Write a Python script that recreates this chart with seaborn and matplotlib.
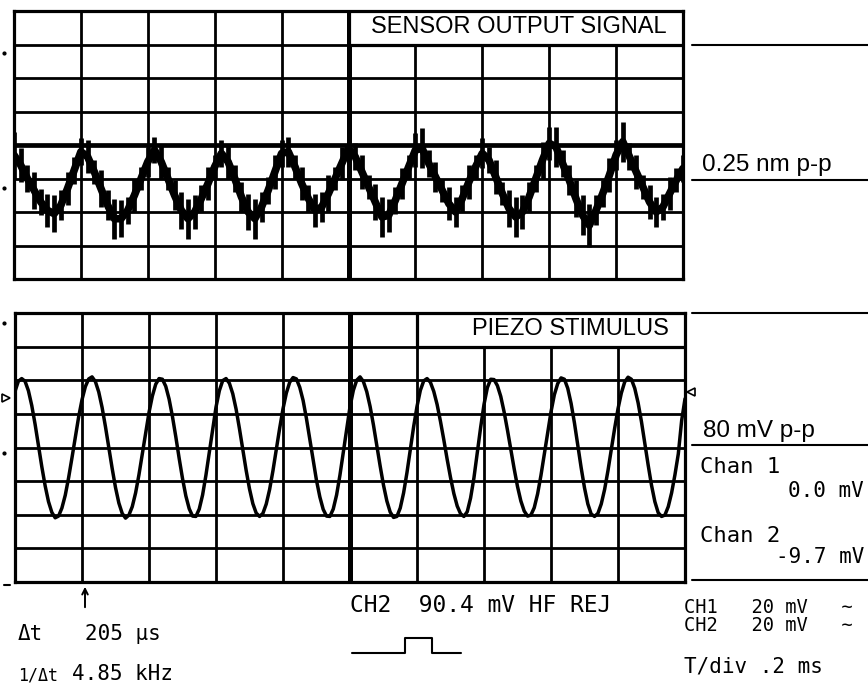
import numpy as np
import pandas as pd
import matplotlib
matplotlib.use("Agg")
import matplotlib.pyplot as plt
import seaborn as sns
from matplotlib.patches import Rectangle
from matplotlib.lines import Line2D

# ---------------- data (read from the scope print, units = divisions) ----------------
# time base: 10 divisions, T/div = 0.2 ms
SENSOR_STEP = 0.1   # div between samples of the sensor trace
PIEZO_STEP = 0.05   # div between samples of the piezo trace

sensor_mid = [
    -0.3, -0.6, -1.0, -1.35, -1.7, -1.95, -2.05, -1.8, -1.3, -0.75,
    -0.2, -0.35, -0.8, -1.3, -1.8, -2.2, -2.2, -1.95, -1.5, -1.0,
    -0.5, -0.15, -0.5, -1.0, -1.5, -1.95, -2.2, -2.0, -1.6, -1.15,
    -0.65, -0.25, -0.5, -1.0, -1.55, -2.0, -2.2, -1.85, -1.35, -0.8,
    -0.25, -0.2, -0.65, -1.15, -1.6, -1.95, -1.85, -1.45, -1.0, -0.55,
    -0.1, -0.35, -0.8, -1.25, -1.7, -2.15, -2.1, -1.65, -1.15, -0.65,
    -0.15, -0.1, -0.55, -0.95, -1.35, -1.75, -2.0, -1.6, -1.1, -0.65,
    -0.25, -0.45, -0.95, -1.45, -1.9, -2.15, -2.0, -1.55, -1.0, -0.45,
    0.05, -0.05, -0.55, -1.05, -1.6, -2.1, -2.4, -1.95, -1.45, -0.9,
    -0.3, 0.1, -0.35, -0.8, -1.25, -1.7, -2.0, -1.85, -1.45, -1.05,
    -0.7,
]
sensor_noise = [
    0.7, 0.5, 0.4, 0.55, 0.4, 0.5, 0.55, 0.45, 0.5, 0.4,
    0.4, 0.5, 0.35, 0.55, 0.45, 0.6, 0.55, 0.4, 0.5, 0.35,
    0.45, 0.4, 0.5, 0.35, 0.45, 0.55, 0.6, 0.5, 0.4, 0.5,
    0.35, 0.4, 0.5, 0.4, 0.45, 0.55, 0.6, 0.45, 0.4, 0.5,
    0.4, 0.45, 0.35, 0.5, 0.4, 0.5, 0.45, 0.55, 0.35, 0.5,
    0.45, 0.4, 0.5, 0.35, 0.55, 0.6, 0.5, 0.4, 0.45, 0.35,
    0.5, 0.6, 0.4, 0.45, 0.35, 0.5, 0.45, 0.4, 0.5, 0.35,
    0.45, 0.4, 0.5, 0.35, 0.55, 0.6, 0.5, 0.45, 0.4, 0.55,
    0.5, 0.6, 0.4, 0.45, 0.55, 0.6, 0.65, 0.45, 0.4, 0.5,
    0.45, 0.6, 0.4, 0.5, 0.35, 0.5, 0.45, 0.4, 0.5, 0.35,
    0.4,
]
piezo = [
    1.67, 1.97, 2.05, 1.97, 1.69, 1.25, 0.69, 0.06, -0.57, -1.14,
    -1.61, -1.93, -2.09, -2.04, -1.80, -1.42, -0.90, -0.31, 0.31, 0.91,
    1.42, 1.81, 2.04, 2.10, 1.96, 1.65, 1.19, 0.62, 0.00, -0.62,
    -1.19, -1.65, -1.96, -2.10, -2.01, -1.76, -1.35, -0.81, -0.19, 0.45,
    1.04, 1.53, 1.88, 2.05, 2.03, 1.82, 1.44, 0.92, 0.32, -0.32,
    -0.92, -1.44, -1.82, -2.04, -2.05, -1.83, -1.41, -0.82, -0.14, 0.56,
    1.20, 1.69, 1.99, 2.05, 1.91, 1.60, 1.14, 0.56, -0.06, -0.68,
    -1.23, -1.67, -1.95, -2.05, -1.96, -1.68, -1.25, -0.69, -0.06, 0.57,
    1.15, 1.62, 1.94, 2.08, 2.04, 1.79, 1.40, 0.86, 0.25, -0.38,
    -0.98, -1.47, -1.84, -2.04, -2.05, -1.83, -1.41, -0.82, -0.14, 0.56,
    1.21, 1.70, 2.00, 2.10, 1.96, 1.66, 1.22, 0.67, 0.06, -0.55,
    -1.12, -1.59, -1.92, -2.08, -2.05, -1.80, -1.35, -0.75, -0.07, 0.62,
    1.22, 1.70, 1.98, 2.05, 1.94, 1.67, 1.28, 0.78, 0.23, -0.35,
    -0.89, -1.37, -1.74, -1.97, -2.05, -1.91, -1.50, -0.90, -0.15, 0.60,
    1.28, 1.78, 2.03, 2.02, 1.84, 1.52, 1.06, 0.52, -0.06, -0.63,
    -1.16, -1.59, -1.89, -2.04, -2.01, -1.79, -1.38, -0.83, -0.20, 0.45,
    1.06, 1.57, 1.90, 2.07, 2.03, 1.76, 1.31, 0.73, 0.07, -0.60,
    -1.20, -1.68, -1.98, -2.05, -1.96, -1.68, -1.25, -0.69, -0.06, 0.57,
    1.15, 1.62, 1.95, 2.09, 2.03, 1.76, 1.33, 0.77, 0.13, -0.52,
    -1.12, -1.61, -1.94, -2.05, -2.01, -1.76, -1.35, -0.81, -0.19, 0.80,
    1.45,
]

top_title = "SENSOR OUTPUT SIGNAL"
bottom_title = "PIEZO STIMULUS"
top_scale = "0.25 nm p-p"
bottom_scale = "80 mV p-p"
chan_labels = ["Chan 1", "Chan 2"]
chan_values = ["0.0 mV", "-9.7 mV"]
cursor_dt = ["\u0394t", "205 \u00b5s"]
cursor_f = ["1/\u0394t", "4.85 kHz"]
trigger_text = "CH2  90.4 mV HF REJ"
scale_texts = ["CH1   20 mV   ~", "CH2   20 mV   ~"]
tdiv_text = "T/div .2 ms"

# ---------------- styling ----------------
sns.set_style("white")
plt.rcParams['font.family'] = ['Liberation Sans', 'DejaVu Sans']
plt.rcParams['text.color'] = 'black'
MONO = ['DejaVu Sans Mono', 'DejaVu Sans']

W, H = 868, 690
fig = plt.figure(figsize=(W / 100, H / 100), dpi=100)
fig.patch.set_facecolor('white')


def fx(px):
    return px / W


def fy(py):
    return 1 - py / H


ax1 = fig.add_axes([fx(14), fy(279), (683 - 14) / W, (279 - 11) / H])
ax2 = fig.add_axes([fx(15), fy(582), (685 - 15) / W, (582 - 313) / H])


def scope_grid(ax, thick_center_h):
    ax.set_xlim(0, 10)
    ax.set_ylim(-4, 4)
    ax.set_xticks([])
    ax.set_yticks([])
    for sp in ax.spines.values():
        sp.set_visible(True)
        sp.set_color('black')
        sp.set_linewidth(2.3)
    for gx in range(1, 10):
        ax.axvline(gx, color='black', lw=3.6 if gx == 5 else 2.0, zorder=1)
    for gy in range(-3, 4):
        ax.axhline(gy, color='black', lw=3.4 if (gy == 0 and thick_center_h) else 2.0, zorder=1)


scope_grid(ax1, True)
scope_grid(ax2, False)

# sensor trace (noisy)
s_t = np.arange(len(sensor_mid)) * SENSOR_STEP
s_mid = np.array(sensor_mid)
s_noise = np.array(sensor_noise)
df_s = pd.DataFrame({"t": s_t, "v": s_mid})
ax1.vlines(s_t, s_mid - s_noise, s_mid + s_noise, color='black', lw=3.4, zorder=4)
sns.lineplot(data=df_s, x="t", y="v", ax=ax1, color='black', lw=5.5,
             estimator=None, legend=False, zorder=5)

# piezo trace
p_t = np.arange(len(piezo)) * PIEZO_STEP
df_p = pd.DataFrame({"t": p_t, "v": piezo})
sns.lineplot(data=df_p, x="t", y="v", ax=ax2, color='black', lw=2.5,
             estimator=None, legend=False, zorder=5)

for ax in (ax1, ax2):
    ax.set_xlabel("")
    ax.set_ylabel("")
    ax.set_xlim(0, 10)
    ax.set_ylim(-4, 4)

# title boxes
ax1.add_patch(Rectangle((5, 3), 5, 1, facecolor='white', edgecolor='black', lw=2.3, zorder=3))
ax1.text(9.76, 3.34, top_title, ha='right', va='baseline', fontsize=17, color='black', zorder=6)
ax2.add_patch(Rectangle((6, 3), 4, 1, facecolor='white', edgecolor='black', lw=2.3, zorder=3))
ax2.text(9.76, 3.35, bottom_title, ha='right', va='baseline', fontsize=17, color='black', zorder=6)

# right-hand rules and labels
for yy in (45, 180, 313, 445, 580):
    fig.add_artist(Line2D([fx(692), fx(868)], [fy(yy), fy(yy)], color='black', lw=1.5))

fig.text(fx(702), fy(171), top_scale, fontsize=17.5, va='baseline')
fig.text(fx(703), fy(437), bottom_scale, fontsize=17.5, va='baseline')
fig.text(fx(700), fy(473), chan_labels[0], family=MONO, fontsize=16, va='baseline')
fig.text(fx(864), fy(497), chan_values[0], family=MONO, fontsize=15, va='baseline', ha='right')
fig.text(fx(700), fy(542), chan_labels[1], family=MONO, fontsize=16, va='baseline')
fig.text(fx(864), fy(563), chan_values[1], family=MONO, fontsize=15, va='baseline', ha='right')

# bottom read-outs
fig.text(fx(18), fy(640), cursor_dt[0], family=MONO, fontsize=15, va='baseline')
fig.text(fx(85), fy(640), cursor_dt[1], family=MONO, fontsize=15, va='baseline')
fig.text(fx(18), fy(680), cursor_f[0], family=MONO, fontsize=12, va='baseline')
fig.text(fx(72), fy(680), cursor_f[1], family=MONO, fontsize=15, va='baseline')
fig.text(fx(350), fy(612), trigger_text, family=MONO, fontsize=16.5, va='baseline')
fig.text(fx(684), fy(613), scale_texts[0], family=MONO, fontsize=13.5, va='baseline')
fig.text(fx(684), fy(631), scale_texts[1], family=MONO, fontsize=13.5, va='baseline')
fig.text(fx(684), fy(673), tdiv_text, family=MONO, fontsize=15, va='baseline')

# trigger-slope pulse symbol
fig.add_artist(Line2D([fx(352), fx(405), fx(405), fx(432), fx(432), fx(461)],
                      [fy(653), fy(653), fy(638), fy(638), fy(653), fy(653)],
                      color='black', lw=1.5))

# cursor arrow below the lower graticule
ax2.annotate('', xy=(fx(85), fy(584)), xycoords='figure fraction',
             xytext=(fx(85), fy(610)), textcoords='figure fraction',
             arrowprops=dict(arrowstyle='->', lw=1.4, color='black'),
             annotation_clip=False)

# reference markers at the graticule edges
fig.add_artist(Line2D([fx(6)], [fy(398)], marker='>', markersize=6, mfc='white', mec='black', mew=1.2))
fig.add_artist(Line2D([fx(691)], [fy(392)], marker='<', markersize=6, mfc='white', mec='black', mew=1.2))
for yy in (53, 188, 323, 453):
    fig.add_artist(Line2D([fx(4)], [fy(yy)], marker='o', markersize=2, color='black'))
fig.add_artist(Line2D([fx(4), fx(10)], [fy(585), fy(585)], color='black', lw=1.5))

fig.savefig("out.png", dpi=100, facecolor='white')
